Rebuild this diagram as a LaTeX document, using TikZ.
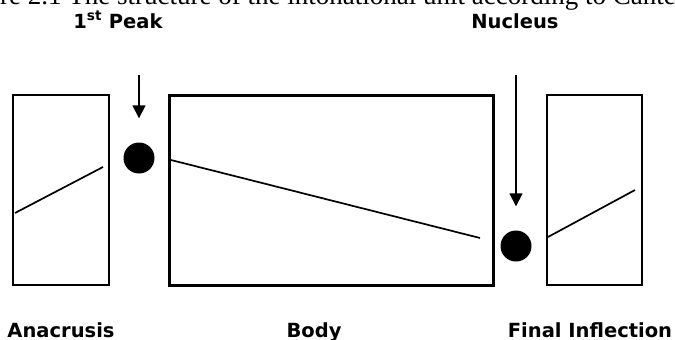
\documentclass[tikz,border=0pt]{standalone}
\usepackage{fontspec}
\setmainfont{Liberation Serif}
\newfontfamily\lblfont{DejaVu Sans}
\usetikzlibrary{arrows.meta}
\tikzset{
  unitbox/.style={draw, line width=2.3pt, inner sep=0pt},
  pitch/.style={line width=1.7pt},
  peakdot/.style={circle, fill=black, minimum size=31pt, inner sep=0pt},
  pointer/.style={line width=1.6pt, -{Triangle[width=13pt,length=13pt]}, shorten >=24pt},
  lbl/.style={font=\lblfont\bfseries\fontsize{19.5}{21}\selectfont, inner sep=0pt, anchor=base}
}
\begin{document}
\begin{tikzpicture}[x=1pt, y=-1pt]
  \useasboundingbox (0,0) rectangle (675,340);
  \clip (0,0) rectangle (675,340);
  % caption cut off at the top
  \node[font=\fontsize{27}{29}\selectfont, anchor=base west, inner sep=0pt] (caption) at (0,5)
    {re 2.1 The structure of the intonational unit according to Cante};
  % Boxes
  \node[unitbox, minimum width=96pt, minimum height=190pt] (ana) at (61,190) {};
  \node[unitbox, line width=3pt, minimum width=324pt, minimum height=190pt] (body) at (331,190) {};
  \node[unitbox, minimum width=95pt, minimum height=190pt] (fin) at (594.5,190) {};
  % Pitch lines
  \draw[pitch] (15,213) -- (103,167);
  \draw[pitch] (171,160) -- (480,238);
  \draw[pitch] (548,237) -- (635,190);
  % Dots
  \node[peakdot] (peak) at (139,158) {};
  \node[peakdot] (nuc) at (516,246) {};
  % Labels
  \node[lbl] (peaklbl) at (118,28) {1\textsuperscript{st} Peak};
  \node[lbl] (nuclbl) at (515,28) {Nucleus};
  \node[lbl] (analbl) at (61,337) {Anacrusis};
  \node[lbl] (bodylbl) at (314,337) {Body};
  \node[lbl] (finlbl) at (590,337) {Final Inflection};
  % Arrows
  \coordinate (peaktop) at (139,75);
  \coordinate (nuctop) at (516,75);
  \draw[pointer] (peaktop) -- (peak);
  \draw[pointer] (nuctop) -- (nuc);
\end{tikzpicture}
\end{document}
